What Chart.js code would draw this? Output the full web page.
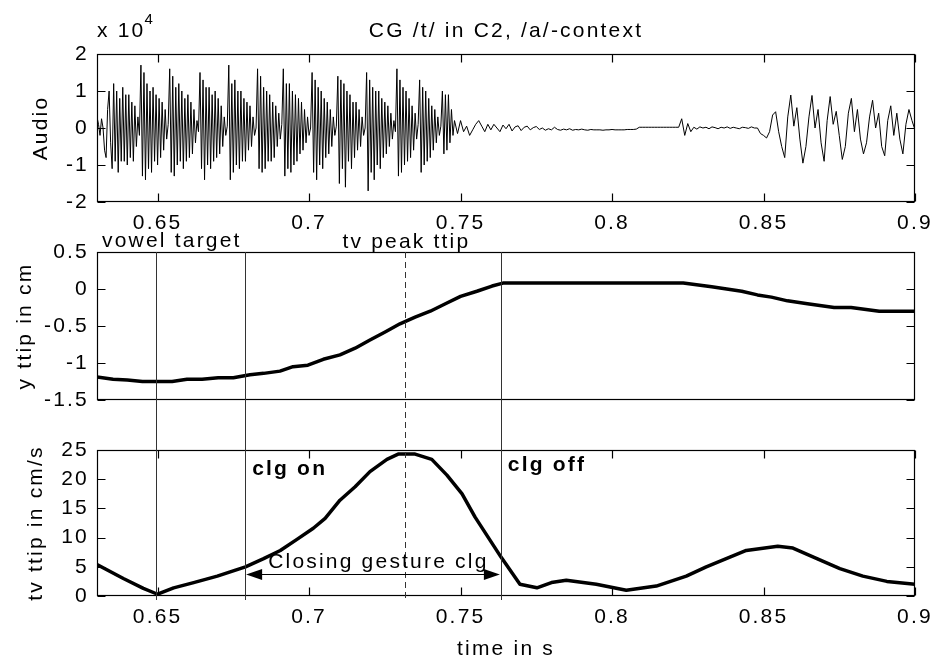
<!DOCTYPE html>
<html><head><meta charset="utf-8">
<script src="https://cdn.jsdelivr.net/npm/chart.js@4"></script>
<style>
html,body{margin:0;padding:0;background:#fff;}
#wrap{position:relative;width:934px;height:664px;overflow:hidden;background:#fff;}
canvas{position:absolute;left:0;top:0;}
</style></head><body>
<div id="wrap">
<canvas id="c1" width="934" height="664"></canvas>
<canvas id="c2" width="934" height="664"></canvas>
<canvas id="c3" width="934" height="664"></canvas>
</div>
<script>
// ---------- data ----------
const xMin = 0.63, xMax = 0.9;
const xTickValues = [0.65, 0.7, 0.75, 0.8, 0.85, 0.9];
const xTickLabels = ['0.65', '0.7', '0.75', '0.8', '0.85', '0.9'];

const audioTickValues = [-2, -1, 0, 1, 2];
const audioTickLabels = ['-2', '-1', '0', '1', '2'];
const ttipTickValues = [-1.5, -1, -0.5, 0, 0.5];
const ttipTickLabels = ['-1.5', '-1', '-0.5', '0', '0.5'];
const tvTickValues = [0, 5, 10, 15, 20, 25];
const tvTickLabels = ['0', '5', '10', '15', '20', '25'];

// audio (x 10^4): vowel part sampled every 0.5 ms from 0.630 s
const audioVowelStart = 0.63, audioVowelStep = 0.0005;
const audioVowel = [
  0.3, 0.1, -0.2, 0.25, 0.0, -0.6, -0.8, 0.5, 1.0, -0.4,
  -1.1, 1.2, -0.9, 1.0, -1.2, 0.8, -0.9, 1.1, -0.9, 0.9, -1.0, 0.9, -0.8, 0.7, -0.9, 0.6, -0.5, 0.3, -0.2,
  1.7, -1.3, 1.5, -1.4, 1.2, -1.1, 1.0, -1.2, 1.1, -0.9, 0.9, -1.0, 0.8, -0.8, 0.7, -0.6, 0.5, -0.3, 0.1,
  1.6, -1.2, 1.4, -1.3, 1.1, -1.0, 1.2, -0.9, 1.0, -1.1, 0.8, -0.9, 0.9, -0.8, 0.7, -0.7, 0.5, -0.4, 0.2, -0.1,
  1.5, -1.1, 1.3, -1.4, 1.1, -1.0, 1.1, -1.1, 0.9, -0.9, 1.0, -0.8, 0.8, -0.7, 0.6, -0.5, 0.3, -0.2, 0.05,
  1.7, -1.4, 1.2, -1.2, 1.3, -1.0, 1.0, -1.1, 1.0, -0.9, 0.8, -0.9, 0.7, -0.6, 0.6, -0.5, 0.3, -0.2, 0.0,
  1.6, -1.1, 1.4, -1.2, 1.1, -1.1, 1.0, -0.9, 0.9, -0.9, 0.7, -0.8, 0.6, -0.5, 0.4, -0.3, 0.1,
  1.6, -1.3, 1.2, -1.1, 1.2, -1.2, 1.0, -1.0, 0.9, -0.9, 0.8, -0.7, 0.7, -0.6, 0.5, -0.4, 0.3, -0.2, 0.0,
  1.5, -1.2, 1.3, -1.4, 1.1, -1.0, 1.0, -1.1, 0.8, -0.8, 0.7, -0.7, 0.5, -0.5, 0.3, -0.2, 0.05,
  1.4, -1.5, 1.3, -1.1, 1.2, -1.6, 1.0, -0.9, 0.9, -1.1, 0.7, -0.8, 0.7, -0.6, 0.5, -0.5, 0.3, -0.2, 0.0,
  1.5, -1.7, 1.3, -1.2, 1.1, -1.4, 1.0, -1.0, 1.0, -1.1, 0.8, -0.8, 0.7, -0.7, 0.6, -0.5, 0.4, -0.3, 0.2, -0.1,
  1.6, -1.3, 1.3, -1.2, 1.1, -1.0, 1.0, -0.9, 0.8, -0.8, 0.6, -0.6, 0.4, -0.3, 0.1,
  1.3, -1.2, 1.1, -1.0, 1.0, -0.9, 0.8, -0.8, 0.6, -0.6, 0.5, -0.4, 0.3, -0.2, 0.05,
  1.0, -0.7, 0.9, -0.6, 0.9, -0.4, 0.5, -0.2
];
// audio (x 10^4): closure and following vowel, every 1 ms from 0.748 s
const audioRestStart = 0.748, audioRestStep = 0.001;
const audioRest = [
  0.2,
  -0.15, 0.2, -0.1, 0.05, -0.2, -0.05, 0.1, 0.2, 0.05, -0.1, 0.1, -0.05,
  0.1, 0.0, -0.1, 0.08, -0.02, 0.1, -0.08, 0.03, 0.06, -0.07, 0.02, 0.05, -0.05, 0.01, 0.04,
  -0.04, 0.0, -0.06, -0.02, -0.05, 0.02, -0.04, -0.06, -0.03, -0.05, -0.02, -0.06, -0.04, -0.05, -0.03, -0.05, -0.06, -0.04, -0.05,
  -0.05, -0.05, -0.06, -0.05, -0.05, -0.04, -0.05, -0.05, -0.05, -0.05, -0.04, -0.04, -0.04, -0.03, 0.02, 0.02,
  0.02, 0.02, 0.02, 0.02, 0.02, 0.02, 0.02, 0.02, 0.02, 0.02, 0.02,
  0.02, 0.25, -0.2, 0.12, -0.1,
  0.02, -0.03, 0.03, 0.0, 0.02, -0.02, 0.03, 0.01, -0.02, 0.02, 0.0, 0.03, -0.01, 0.02, 0.0, -0.02, 0.02, 0.01, -0.01, 0.03, 0.0,
  0.0, -0.15, -0.2, -0.27, -0.1, 0.35, 0.44, -0.1, -0.5, -0.8, 0.3,
  0.89, 0.05, 0.55, -0.3, -0.95, -0.5, 0.3,
  0.88, 0.0, 0.5, -0.4, -0.9, 0.2,
  0.85, 0.1, 0.45, -0.2, -0.85, -0.5, 0.4,
  0.8, -0.1, 0.5, -0.3, -0.7, -0.4, 0.3,
  0.75, 0.0, 0.4, -0.5, -0.75, 0.2,
  0.6, -0.2, 0.4, -0.3, -0.7, 0.1, 0.5,
  0.2, -0.05
];

// vertical tongue-tip position (cm)
const ttipTime = [0.630, 0.6353, 0.640, 0.645, 0.6548, 0.6597, 0.6647, 0.670, 0.675, 0.6805, 0.685, 0.6904, 0.6947, 0.6996, 0.7047, 0.7102, 0.7152, 0.7201, 0.7251, 0.730, 0.735, 0.740, 0.745, 0.750, 0.7554, 0.7604, 0.7640, 0.8235, 0.8329, 0.8428, 0.848, 0.8526, 0.8579, 0.8645, 0.8733, 0.8789, 0.8882, 0.900];
const ttipY = [-1.19, -1.22, -1.23, -1.25, -1.25, -1.22, -1.22, -1.20, -1.20, -1.16, -1.14, -1.11, -1.05, -1.03, -0.95, -0.89, -0.80, -0.69, -0.58, -0.47, -0.38, -0.30, -0.20, -0.10, -0.03, 0.04, 0.08, 0.08, 0.03, -0.03, -0.08, -0.11, -0.16, -0.20, -0.25, -0.25, -0.30, -0.30];

// tangential velocity of tongue tip (cm/s)
const tvTime = [0.630, 0.6387, 0.6453, 0.650, 0.6553, 0.6619, 0.6697, 0.679, 0.685, 0.6905, 0.696, 0.7014, 0.7053, 0.7102, 0.7152, 0.7201, 0.7257, 0.7294, 0.735, 0.7405, 0.7455, 0.7505, 0.7548, 0.7633, 0.7696, 0.7752, 0.780, 0.7849, 0.7948, 0.8047, 0.8146, 0.8245, 0.8311, 0.8377, 0.8443, 0.8547, 0.8597, 0.8663, 0.8752, 0.8828, 0.8907, 0.900];
const tvVal = [5.4, 3.0, 1.3, 0.3, 1.4, 2.3, 3.4, 5.0, 6.4, 7.8, 9.7, 11.6, 13.3, 16.4, 18.7, 21.3, 23.4, 24.3, 24.3, 23.4, 20.7, 17.5, 13.5, 6.7, 2.0, 1.4, 2.3, 2.7, 2.0, 1.0, 1.7, 3.4, 5.0, 6.4, 7.8, 8.5, 8.2, 6.7, 4.7, 3.4, 2.5, 2.0];

// event markers (s)
const eventNames = ['vowel target', 'clg on', 'tv peak ttip', 'clg off'];
const eventTimes = [0.6494, 0.6789, 0.7317, 0.7633];
const gestureLabel = 'Closing gesture clg';
const gestureArrowLevel = 3.7; // cm/s

// ---------- styling / helpers ----------
const FONT = "'Liberation Sans', Arial, Helvetica, sans-serif";
const FS = 21;
const LS = '2.2px';
Chart.defaults.font.family = FONT;
Chart.defaults.font.size = FS;
Chart.defaults.color = '#000';

Chart.register({
  id: 'spacing',
  beforeDraw(chart) { try { chart.ctx.letterSpacing = LS; } catch (e) {} }
});

const framePlugin = {
  id: 'frame',
  afterDatasetsDraw(chart, args, opts) {
    const ctx = chart.ctx;
    const {left, right, top, bottom} = chart.chartArea;
    const L = Math.round(left) + 0.5, R = Math.round(right) - 0.5;
    const T = Math.round(top) + 0.5, B = Math.round(bottom) - 0.5;
    ctx.save();
    ctx.strokeStyle = '#000';
    ctx.lineWidth = 1.2;
    ctx.strokeRect(L, T, R - L, B - T);
    const tl = 8;
    ctx.beginPath();
    if (opts.xTicks) {
      chart.scales.x.ticks.forEach(t => {
        const x = Math.round(chart.scales.x.getPixelForValue(t.value)) + 0.5;
        ctx.moveTo(x, T); ctx.lineTo(x, T + tl);
        ctx.moveTo(x, B); ctx.lineTo(x, B - tl);
      });
    }
    chart.scales.y.ticks.forEach(t => {
      const y = Math.round(chart.scales.y.getPixelForValue(t.value)) + 0.5;
      ctx.moveTo(L, y); ctx.lineTo(L + tl, y);
      ctx.moveTo(R, y); ctx.lineTo(R - tl, y);
    });
    ctx.stroke();
    ctx.restore();
  }
};

function xScale(display, height, title) {
  return {
    type: 'linear', min: xMin, max: xMax, display: display,
    grid: {display: false, drawTicks: false, tickLength: 0}, border: {display: false},
    afterBuildTicks: s => { s.ticks = xTickValues.map(v => ({value: v})); },
    ticks: {padding: 9, maxRotation: 0, autoSkip: false, color: '#000',
            callback: (v, i) => xTickLabels[i]},
    afterFit: s => { s.height = height; s.paddingLeft = 0; s.paddingRight = 0; s.paddingTop = 0; s.paddingBottom = 0; },
    title: title ? {display: true, text: title, color: '#000', font: {size: FS}, padding: {top: 0, bottom: 2}} : {display: false}
  };
}
function yScale(min, max, vals, lbls, title, titlePad) {
  return {
    type: 'linear', min: min, max: max,
    grid: {display: false, drawTicks: false, tickLength: 0}, border: {display: false},
    afterBuildTicks: s => { s.ticks = vals.map(v => ({value: v})); },
    ticks: {padding: 8, autoSkip: false, color: '#000', callback: (v, i) => lbls[i]},
    afterFit: s => { s.width = 97; s.paddingLeft = 0; s.paddingRight = 0; s.paddingTop = 0; s.paddingBottom = 0; },
    title: {display: true, text: title, color: '#000', font: {size: FS}, padding: {top: titlePad, bottom: 0}}
  };
}
function baseOptions(pad, scales, frameOpts) {
  return {
    responsive: false, animation: false, events: [],
    layout: {padding: pad, autoPadding: false},
    plugins: {legend: {display: false}, tooltip: {enabled: false}, title: {display: false}, frame: frameOpts},
    scales: scales
  };
}
function txt(ctx, s, x, y, opt) {
  ctx.save();
  ctx.font = (opt && opt.bold ? 'bold ' : '') + ((opt && opt.size) || FS) + 'px ' + FONT;
  try { ctx.letterSpacing = LS; } catch (e) {}
  ctx.fillStyle = '#000';
  ctx.textAlign = (opt && opt.align) || 'left';
  ctx.textBaseline = 'alphabetic';
  ctx.fillText(s, x, y);
  const w = ctx.measureText(s).width;
  ctx.restore();
  return w;
}

// ---------- panel 1: audio ----------
const audioPts = audioVowel.map((v, i) => ({x: audioVowelStart + i * audioVowelStep, y: v}))
  .concat(audioRest.map((v, i) => ({x: audioRestStart + i * audioRestStep, y: v})));
const chart1 = new Chart(document.getElementById('c1'), {
  type: 'line',
  data: {datasets: [{data: audioPts, borderColor: '#000', borderWidth: 1, pointRadius: 0, tension: 0}]},
  options: baseOptions({left: 0, right: 19, top: 54, bottom: 664 - 202 - 40},
    {x: xScale(true, 40, null), y: yScale(-2, 2, audioTickValues, audioTickLabels, 'Audio', 28.5)},
    {xTicks: true}),
  plugins: [framePlugin, {
    id: 'heading',
    afterDraw(chart) {
      const ctx = chart.ctx, a = chart.chartArea;
      txt(ctx, 'CG /t/ in C2, /a/-context', (a.left + a.right) / 2, 37, {align: 'center'});
      const w = txt(ctx, 'x 10', a.left, 37);
      txt(ctx, '4', a.left + w - 1, 24, {size: 15});
    }
  }]
});

// ---------- panel 2: y ttip ----------
const ttipPts = ttipTime.map((t, i) => ({x: t, y: ttipY[i]}));
const chart2 = new Chart(document.getElementById('c2'), {
  type: 'line',
  data: {datasets: [{data: ttipPts, borderColor: '#000', borderWidth: 3.5, pointRadius: 0, tension: 0, borderJoinStyle: 'round', borderCapStyle: 'round'}]},
  options: baseOptions({left: 0, right: 19, top: 252, bottom: 664 - 400},
    {x: xScale(false, 0, null), y: yScale(-1.5, 0.5, ttipTickValues, ttipTickLabels, 'y ttip in cm', 12.5)},
    {xTicks: false}),
  plugins: [framePlugin, {
    id: 'eventText',
    afterDraw(chart) {
      const ctx = chart.ctx, a = chart.chartArea, xs = chart.scales.x;
      txt(ctx, eventNames[0], a.left + 5, a.top - 5.5);
      txt(ctx, eventNames[2], xs.getPixelForValue(0.7110), a.top - 4.5);
    }
  }]
});

// ---------- panel 3: tv ttip ----------
const tvPts = tvTime.map((t, i) => ({x: t, y: tvVal[i]}));
const chart3 = new Chart(document.getElementById('c3'), {
  type: 'line',
  data: {datasets: [{data: tvPts, borderColor: '#000', borderWidth: 3.5, pointRadius: 0, tension: 0, borderJoinStyle: 'round', borderCapStyle: 'round'}]},
  options: baseOptions({left: 0, right: 19, top: 450, bottom: 0},
    {x: xScale(true, 68, 'time in s'), y: yScale(0, 25, tvTickValues, tvTickLabels, 'tv ttip in cm/s', 23.5)},
    {xTicks: true}),
  plugins: [framePlugin, {
    id: 'events',
    afterDraw(chart) {
      const ctx = chart.ctx, a = chart.chartArea, xs = chart.scales.x, ys = chart.scales.y;
      const topY = Math.round(chart2.chartArea.top);
      const botY = Math.round(a.bottom) + 4;
      ctx.save();
      ctx.strokeStyle = '#333';
      ctx.lineWidth = 1;
      eventTimes.forEach((t, i) => {
        const x = Math.round(xs.getPixelForValue(t)) + 0.5;
        ctx.setLineDash(i === 2 ? [6, 4] : []);
        ctx.beginPath(); ctx.moveTo(x, topY); ctx.lineTo(x, botY); ctx.stroke();
      });
      ctx.setLineDash([]);
      // double arrow for the closing gesture
      const x1 = xs.getPixelForValue(eventTimes[1]), x2 = xs.getPixelForValue(eventTimes[3]);
      const y = Math.round(ys.getPixelForValue(gestureArrowLevel)) + 0.5;
      ctx.strokeStyle = '#000';
      ctx.beginPath(); ctx.moveTo(x1 + 10, y); ctx.lineTo(x2 - 10, y); ctx.stroke();
      ctx.fillStyle = '#000';
      ctx.beginPath(); ctx.moveTo(x1 + 1, y); ctx.lineTo(x1 + 17, y - 5.5); ctx.lineTo(x1 + 17, y + 5.5); ctx.closePath(); ctx.fill();
      ctx.beginPath(); ctx.moveTo(x2 - 1, y); ctx.lineTo(x2 - 17, y - 5.5); ctx.lineTo(x2 - 17, y + 5.5); ctx.closePath(); ctx.fill();
      ctx.restore();
      txt(ctx, eventNames[1], x1 + 7, a.top + 25, {bold: true});
      txt(ctx, eventNames[3], x2 + 7, a.top + 21, {bold: true});
      txt(ctx, gestureLabel, x1 + 23, y - 6.5);
    }
  }]
});
</script>
</body></html>
